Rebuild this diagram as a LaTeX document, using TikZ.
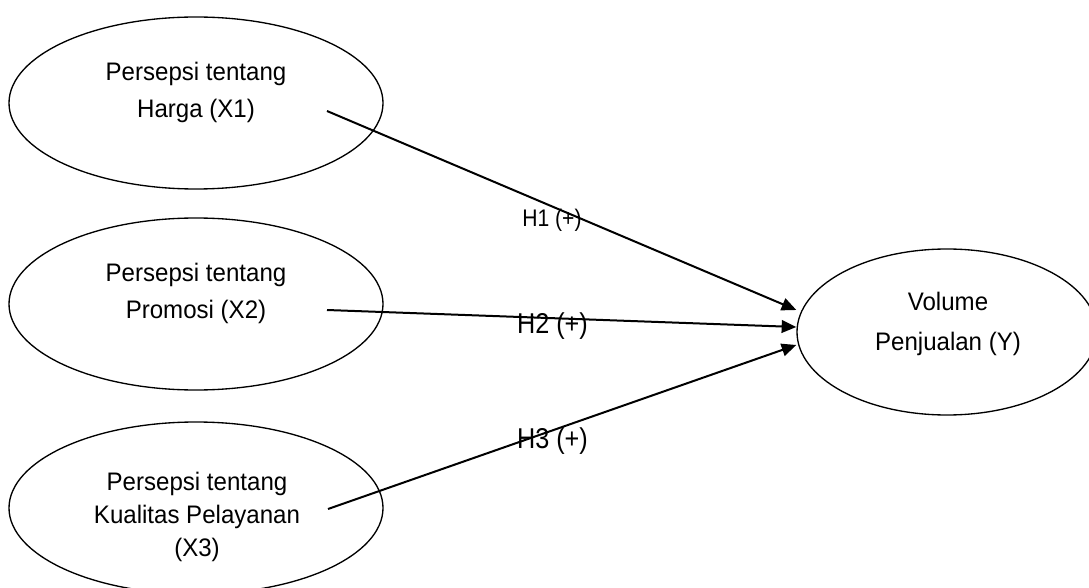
\documentclass[tikz,border=0pt]{standalone}
\usepackage{fontspec}
\setmainfont{Liberation Sans}
\newfontfamily\efont[FakeStretch=0.95]{Liberation Sans}
\newfontfamily\hfont[FakeStretch=0.88]{Liberation Sans}
\usetikzlibrary{shapes.geometric,arrows.meta,calc}
\begin{document}
\begin{tikzpicture}[x=0.75pt,y=-0.75pt,
  var/.style={draw, ellipse, line width=1pt, inner sep=0pt},
  lbl/.style={inner sep=0pt, align=center, anchor=north},
  hyp/.style={inner sep=0pt, anchor=base},
  link/.style={line width=1.5pt, -{Triangle[length=11pt,width=9.5pt]}}]
\useasboundingbox (0,0) rectangle (1089,588);
% ellipses
\node[var, minimum width=280.5pt, minimum height=129pt] (X1) at (196,103) {};
\node[var, minimum width=280.5pt, minimum height=129pt] (X2) at (196,304) {};
\node[var, minimum width=280.5pt, minimum height=129pt] (X3) at (196,508) {};
\node[var, minimum width=225pt, minimum height=124.5pt] (Y) at (947,332) {};
% texts
\node[lbl, font=\efont\fontsize{19}{27.75}\selectfont] (tX1) at (196,62) {Persepsi tentang\\Harga (X1)};
\node[lbl, font=\efont\fontsize{19}{27.75}\selectfont] (tX2) at (196,263) {Persepsi tentang\\Promosi (X2)};
\node[lbl, font=\efont\fontsize{19}{24.75}\selectfont] (tX3) at (197,472) {Persepsi tentang\\Kualitas Pelayanan\\(X3)};
\node[lbl, font=\efont\fontsize{19}{30}\selectfont] (tY) at (948,292) {Volume\\Penjualan (Y)};
% connectors
\coordinate (s1) at (327,111);
\coordinate (s2) at (327,310);
\coordinate (s3) at (328,509);
\draw[link] (s1) -- ($(Y.west)+(0,-22)$);
\draw[link] (s2) -- ($(Y.west)+(0,-5)$);
\draw[link] (s3) -- ($(Y.west)+(0,13)$);
% labels
\node[hyp, font=\hfont\fontsize{18}{20}\selectfont] (h1) at (552,227) {H1 (+)};
\node[hyp, font=\hfont\fontsize{21.5}{24}\selectfont] (h2) at (552.5,333) {H2 (+)};
\node[hyp, font=\hfont\fontsize{21.5}{24}\selectfont] (h3) at (552.5,448) {H3 (+)};
\end{tikzpicture}
\end{document}
